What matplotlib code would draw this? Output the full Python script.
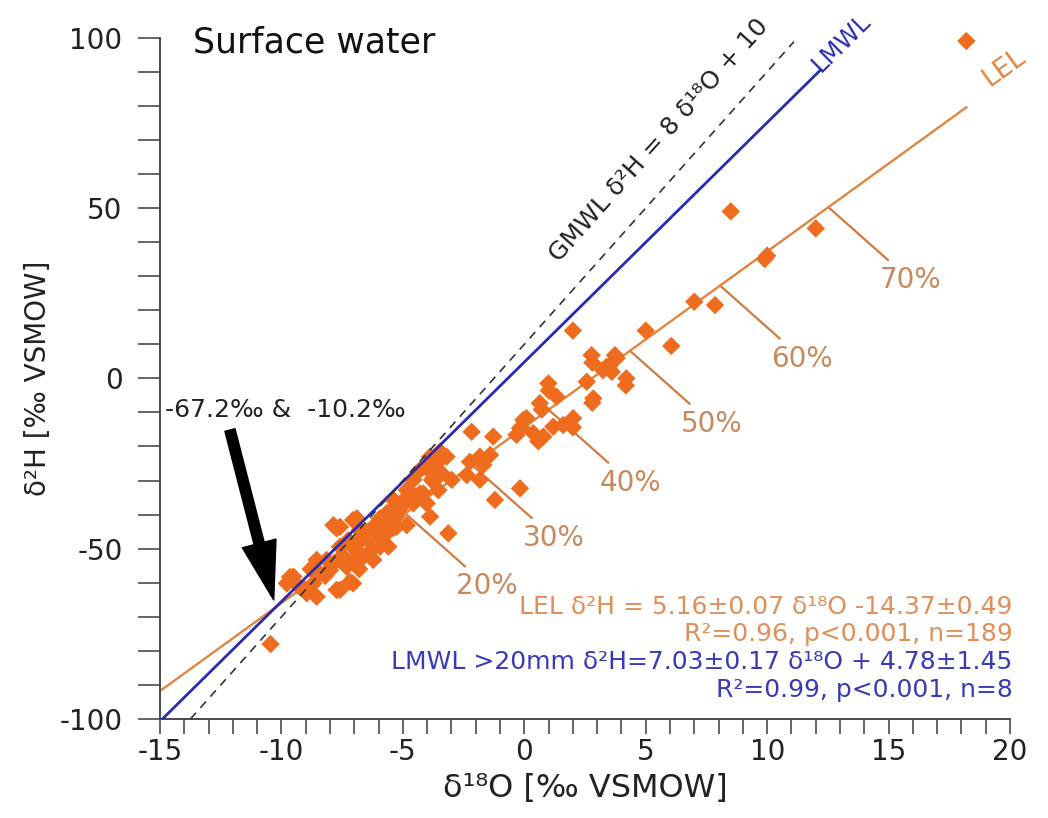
import numpy as np
import matplotlib
matplotlib.use("Agg")
import matplotlib.pyplot as plt

plt.rcParams["axes.unicode_minus"] = False

# Surface water samples (‰ VSMOW)
d18o = [18.2, 8.5, 12.0, 10.0, 9.9, 7.0, 7.85, 6.05, 2.0, 5.0,
        2.77, 3.73, 3.39, 3.24, 3.6, 4.2, 3.8, 2.57, 2.84, 0.99,
        1.33, 0.64, -0.04, 0.37, 0.78, 2.01, 1.6, 1.19, 0.09, -0.18,
        -2.17, -1.28, -0.32, -1.83, -1.41, -1.69, -2.24, -3.2, -3.54, -3.88,
        -3.4, -2.99, -2.37, -1.83, -0.18, -1.21, -3.75, -3.54, -4.16, -4.57,
        -4.84, -5.12, -5.67, -5.39, -3.88, -3.13, -5.8, 2.8, 3.46, 4.18,
        1.01, 0.72, 2.8, -0.14, 0.58, 2.0,
        -4.02, -3.81, -4.3, -4.84, -4.02, -5.12, -5.6, -5.94, -4.84, -5.26,
        -6.22, -6.77, -5.67, -6.43, -5.94, -6.9, -7.05, -7.73, -7.25, -7.59,
        -6.63, -7.05, -7.32, -8.14, -8.55, -8.0, -8.41, -8.69, -9.51, -9.78,
        -9.1, -8.55, -8.96, -7.59, -7.05, -7.87, -6.22, -5.6, -5.26, -4.84,
        -4.57, -5.39, -5.81, -6.63, -7.18, -7.73, -10.45, -7.59, -3.88, -3.47,
        -4.3, -4.57, -3.68, -7.86, -6.9, -6.5, -7.0, -6.0, -7.5, -8.2,
        -6.8, -6.3, -5.4, -8.8, -9.3, -9.65]
d2h = [99.0, 49.0, 44.0, 36.0, 35.0, 22.5, 21.5, 9.5, 14.0, 14.0,
       6.8, 6.8, 3.4, 2.4, 1.9, 0.0, 5.9, -1.0, -5.9, -1.5,
       -5.4, -7.3, -12.2, -16.1, -17.1, -11.7, -13.7, -14.2, -11.7, -14.7,
       -15.7, -17.1, -16.6, -23.0, -22.5, -25.4, -24.5, -23.0, -24.5, -26.4,
       -27.9, -29.8, -28.4, -29.8, -32.3, -35.7, -30.3, -32.8, -33.8, -34.3,
       -35.7, -37.7, -39.6, -38.7, -40.6, -45.5, -41.6, 4.6, 3.1, -2.1,
       -3.6, -9.2, -7.2, -14.4, -18.5, -14.4,
       -26.4, -29.8, -33.8, -34.8, -36.7, -38.2, -39.6, -41.1, -43.1, -43.6,
       -43.6, -44.5, -45.0, -47.5, -49.4, -48.9, -41.6, -44.0, -47.5, -49.4,
       -52.4, -53.3, -55.3, -53.3, -53.3, -56.3, -57.2, -60.2, -58.2, -60.2,
       -61.6, -64.1, -63.1, -62.1, -60.2, -54.3, -53.3, -49.4, -40.6, -32.8,
       -36.7, -35.7, -46.5, -46.5, -59.7, -62.1, -78.0, -43.6, -23.0, -21.5,
       -26.9, -29.8, -28.9, -43.1, -41.1, -45.0, -50.0, -46.0, -52.0, -58.0,
       -56.0, -50.5, -44.0, -56.0, -61.0, -58.3]

# Regression lines: δ2H = slope * δ18O + intercept
lel_slope, lel_intercept = 5.16, -14.37
lmwl_slope, lmwl_intercept = 7.03, 4.78
gmwl_slope, gmwl_intercept = 8.0, 10.0

# Evaporated fraction markers along the LEL
evap_labels = ["20%", "30%", "40%", "50%", "60%", "70%"]
evap_d18o = [-4.9, -2.15, 1.0, 4.35, 8.06, 12.52]

x_major = [-15, -10, -5, 0, 5, 10, 15, 20]
y_major = [-100, -50, 0, 50, 100]

ORANGE_PT = "#EF6C1E"
ORANGE_LN = "#E2843F"
ORANGE_TX = "#E08F58"
PCT_TX = "#C88A5C"
BLUE = "#2A2AB0"
BLUE_TX = "#3A3AB8"
AXIS = "#4a4a4a"

fig = plt.figure(figsize=(10.48, 8.18), dpi=100)
ax = fig.add_axes([0.1527, 0.1210, 0.8111, 0.8330])
ax.set_xlim(-15, 20)
ax.set_ylim(-100, 100)

def line(slope, icpt, x):
    return slope * np.asarray(x) + icpt

def screen_angle(slope):
    p0 = ax.transData.transform((0, 0))
    p1 = ax.transData.transform((1, slope))
    return np.degrees(np.arctan2(p1[1] - p0[1], p1[0] - p0[0]))

# evaporation ticks on the LEL
tick_dx, tick_dy = 2.45, -15.5
for lab, x0 in zip(evap_labels, evap_d18o):
    y0 = line(lel_slope, lel_intercept, x0)
    ax.plot([x0, x0 + tick_dx], [y0, y0 + tick_dy], color="#D07A40", lw=1.6, zorder=2)
    ax.annotate(lab, xy=(x0 + tick_dx, y0 + tick_dy), xytext=(16, -14.5),
                textcoords="offset points", ha="center", va="center",
                fontsize=20, color=PCT_TX, zorder=2)

# LEL
xl = np.array([-15, 18.2])
ax.plot(xl, line(lel_slope, lel_intercept, xl), color=ORANGE_LN, lw=1.7, zorder=2)

# samples
ax.scatter(d18o, d2h, marker="D", s=88, color=ORANGE_PT, edgecolors="none",
           zorder=3, clip_on=False)

# LMWL and GMWL
xm = np.array([-15, 12.2])
ax.plot(xm, line(lmwl_slope, lmwl_intercept, xm), color=BLUE, lw=2.0, zorder=4)
xg = np.array([(-100 - gmwl_intercept) / gmwl_slope, 11.1])
ax.plot(xg, line(gmwl_slope, gmwl_intercept, xg), color="#333333", lw=1.2,
        ls=(0, (5, 4)), zorder=4)

# line labels
ax.text(12.35, line(lmwl_slope, lmwl_intercept, 12.35) - 3.0, "LMWL", color=BLUE,
        fontsize=17.5, rotation=screen_angle(lmwl_slope), rotation_mode="anchor",
        ha="left", va="bottom", clip_on=False)
ax.text(19.3, line(lel_slope, lel_intercept, 19.3) - 1.0, "LEL", color=ORANGE_LN,
        fontsize=19, rotation=screen_angle(lel_slope), rotation_mode="anchor",
        ha="left", va="bottom", clip_on=False)
xg0 = 1.6
ax.annotate("GMWL δ²H = 8 δ¹⁸O + 10", xy=(xg0, line(gmwl_slope, gmwl_intercept, xg0)),
            xytext=(0, 25), textcoords="offset points", color="#222222", fontsize=18,
            rotation=screen_angle(gmwl_slope), rotation_mode="anchor",
            ha="left", va="bottom")

# intersection of LEL and LMWL
xi = (lmwl_intercept - lel_intercept) / (lel_slope - lmwl_slope)
yi = line(lel_slope, lel_intercept, xi)
ax.annotate("", xy=(xi, yi), xytext=(-12.2, -13.0),
            arrowprops=dict(width=7.5, headwidth=25, headlength=42, shrink=0.04,
                            color="black"), zorder=5)
ax.text(-14.8, -9.3, f"{yi:.1f}‰ &  {xi:.1f}‰", fontsize=18, color="#222222",
        ha="left", va="center")

ax.text(-13.64, 98.7, "Surface water", fontsize=25, color="#111111",
        ha="left", va="center")

# regression statistics
ax.text(20.1, -67.1, f"LEL δ²H = {lel_slope:.2f}±0.07 δ¹⁸O {lel_intercept:.2f}±0.49",
        fontsize=18, color=ORANGE_TX, ha="right", va="center", clip_on=False)
ax.text(20.1, -75.0, "R²=0.96, p<0.001, n=189", fontsize=18, color=ORANGE_TX,
        ha="right", va="center", clip_on=False)
ax.text(20.1, -83.2, f"LMWL >20mm δ²H={lmwl_slope:.2f}±0.17 δ¹⁸O + {lmwl_intercept:.2f}±1.45",
        fontsize=18, color=BLUE_TX, ha="right", va="center", clip_on=False)
ax.text(20.1, -91.5, "R²=0.99, p<0.001, n=8", fontsize=18, color=BLUE_TX,
        ha="right", va="center", clip_on=False)

# axes styling
for side in ("top", "right"):
    ax.spines[side].set_visible(False)
for side in ("left", "bottom"):
    ax.spines[side].set_color(AXIS)
    ax.spines[side].set_linewidth(1.4)

ax.set_xticks(x_major)
ax.set_xticks(np.arange(-15, 21, 1), minor=True)
ax.set_yticks(y_major)
ax.set_yticks(np.arange(-100, 101, 10), minor=True)
ax.tick_params(axis="x", which="both", direction="out", length=11, width=1.2,
               color=AXIS, labelsize=20, pad=3, labelcolor="#222222")
ax.tick_params(axis="y", which="both", direction="out", length=16, width=1.2,
               color=AXIS, labelsize=20, pad=11, labelcolor="#222222")

ax.set_xlabel("δ¹⁸O [‰ VSMOW]", fontsize=23, color="#222222", labelpad=5)
ax.set_ylabel("δ²H [‰ VSMOW]", fontsize=20, color="#222222", labelpad=5)

fig.savefig("out.png", dpi=100)
